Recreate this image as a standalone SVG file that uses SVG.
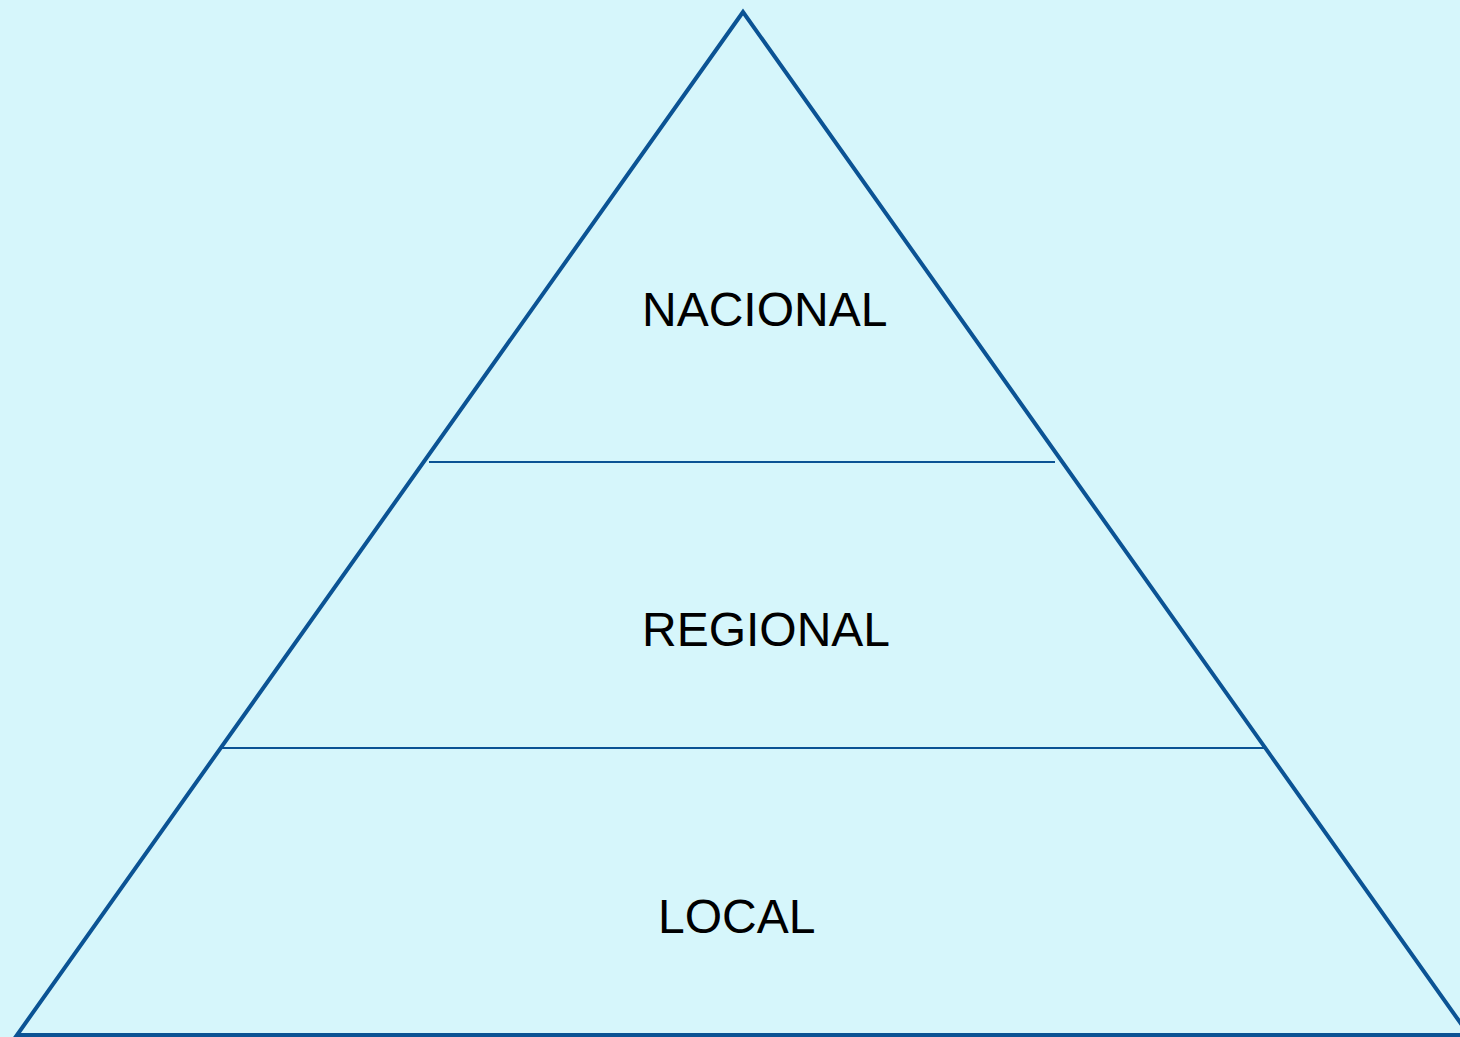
<svg xmlns="http://www.w3.org/2000/svg" width="1460" height="1037" viewBox="0 0 1460 1037">
<style>
.edge{stroke:#0b5394;stroke-width:4;fill:none;stroke-linejoin:miter}
.div{stroke:#0b5394;stroke-width:2;fill:none}
.lbl{font-family:"Liberation Sans",Arial,sans-serif;font-size:48px;fill:#000}
</style>
<rect width="1460" height="1037" fill="#d6f6fb"/>
<g id="pyramid">
<polygon class="edge" points="743,12 17,1035 1469,1035"/>
</g>
<g id="connectors">
<line class="div" x1="429" y1="462" x2="1055" y2="462"/>
<line class="div" x1="222" y1="748" x2="1264" y2="748"/>
</g>
<g id="nacional"><text class="lbl" x="642" y="326">NACIONAL</text></g>
<g id="regional"><text class="lbl" x="642" y="646">REGIONAL</text></g>
<g id="local"><text class="lbl" x="658" y="933">LOCAL</text></g>
</svg>
